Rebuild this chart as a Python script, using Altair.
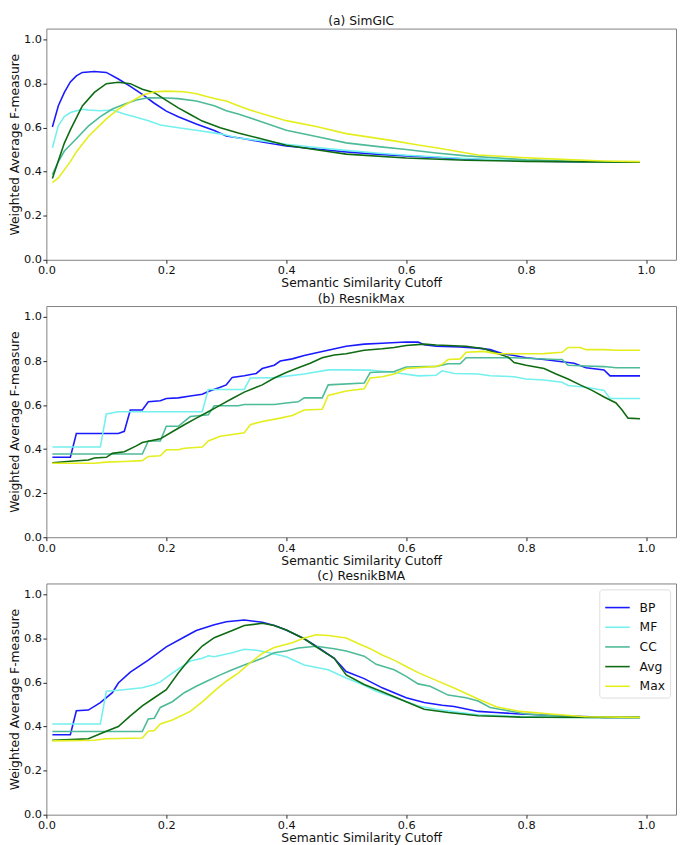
import altair as alt
import pandas as pd

series_names = ["BP", "MF", "CC", "Avg", "Max"]
series_colors = ["#1a1aff", "#74f0ee", "#4dba98", "#0e6b12", "#e4ee1c"]
panel_titles = ["(a) SimGIC", "(b) ResnikMax", "(c) ResnikBMA"]
tick_values = [0.0, 0.2, 0.4, 0.6, 0.8, 1.0]

# ---------- (a) SimGIC ----------
simgic_bp_x = [0.01,0.02,0.03,0.04,0.05,0.06,0.08,0.10,0.12,0.14,0.16,0.18,0.20,0.22,0.25,0.28,0.30,0.33,0.36,0.40,0.45,0.50,0.55,0.60,0.70,0.80,0.90,0.99]
simgic_bp_y = [0.603,0.70,0.76,0.808,0.835,0.851,0.855,0.851,0.821,0.788,0.751,0.711,0.675,0.65,0.617,0.587,0.562,0.55,0.535,0.517,0.503,0.49,0.48,0.472,0.458,0.449,0.444,0.443]
simgic_mf_x = [0.01,0.02,0.03,0.04,0.06,0.07,0.09,0.11,0.13,0.15,0.17,0.19,0.22,0.25,0.29,0.32,0.36,0.40,0.45,0.50,0.55,0.60,0.70,0.80,0.90,0.99]
simgic_mf_y = [0.509,0.61,0.65,0.669,0.684,0.68,0.677,0.68,0.662,0.647,0.632,0.612,0.60,0.588,0.572,0.553,0.54,0.525,0.51,0.497,0.485,0.475,0.46,0.45,0.445,0.443]
simgic_cc_x = [0.01,0.02,0.03,0.05,0.07,0.09,0.11,0.13,0.15,0.17,0.20,0.22,0.25,0.28,0.30,0.32,0.35,0.40,0.45,0.50,0.55,0.60,0.65,0.70,0.80,0.90,0.99]
simgic_cc_y = [0.387,0.446,0.494,0.55,0.607,0.65,0.685,0.706,0.726,0.736,0.735,0.732,0.721,0.70,0.677,0.662,0.635,0.588,0.56,0.531,0.515,0.501,0.485,0.472,0.454,0.446,0.443]
simgic_avg_x = [0.01,0.02,0.03,0.04,0.05,0.06,0.08,0.10,0.12,0.14,0.16,0.18,0.20,0.22,0.24,0.26,0.29,0.32,0.35,0.40,0.45,0.50,0.60,0.70,0.80,0.99]
simgic_avg_y = [0.369,0.45,0.53,0.59,0.645,0.699,0.76,0.80,0.806,0.80,0.775,0.759,0.724,0.69,0.66,0.63,0.60,0.576,0.555,0.52,0.50,0.48,0.462,0.452,0.447,0.443]
simgic_max_x = [0.01,0.02,0.04,0.05,0.07,0.10,0.12,0.14,0.16,0.18,0.20,0.23,0.25,0.28,0.30,0.32,0.34,0.37,0.40,0.45,0.50,0.58,0.62,0.65,0.72,0.79,0.86,0.93,0.99]
simgic_max_y = [0.35,0.372,0.446,0.49,0.56,0.64,0.684,0.717,0.747,0.763,0.766,0.763,0.754,0.733,0.721,0.70,0.68,0.655,0.632,0.605,0.573,0.54,0.521,0.509,0.476,0.465,0.456,0.449,0.446]

# ---------- (b) ResnikMax ----------
rmax_bp_x = [0.01,0.04,0.05,0.12,0.13,0.14,0.16,0.17,0.19,0.20,0.22,0.24,0.26,0.27,0.29,0.30,0.31,0.33,0.35,0.36,0.38,0.39,0.41,0.43,0.46,0.50,0.53,0.56,0.60,0.62,0.63,0.65,0.69,0.72,0.74,0.76,0.78,0.80,0.83,0.85,0.88,0.90,0.93,0.94,0.99]
rmax_bp_y = [0.363,0.363,0.471,0.471,0.481,0.578,0.578,0.615,0.62,0.63,0.633,0.641,0.649,0.662,0.681,0.692,0.726,0.733,0.744,0.766,0.781,0.80,0.81,0.825,0.844,0.867,0.877,0.881,0.887,0.886,0.874,0.867,0.864,0.859,0.852,0.834,0.825,0.815,0.807,0.80,0.79,0.77,0.76,0.733,0.733]
rmax_mf_x = [0.01,0.09,0.10,0.12,0.26,0.27,0.33,0.34,0.38,0.43,0.47,0.50,0.54,0.58,0.62,0.65,0.66,0.68,0.72,0.74,0.78,0.80,0.83,0.86,0.87,0.90,0.93,0.94,0.99]
rmax_mf_y = [0.41,0.41,0.56,0.57,0.57,0.671,0.671,0.723,0.725,0.741,0.76,0.76,0.759,0.748,0.733,0.736,0.756,0.744,0.741,0.733,0.729,0.719,0.714,0.704,0.689,0.681,0.667,0.63,0.63]
rmax_cc_x = [0.01,0.16,0.17,0.19,0.20,0.22,0.24,0.27,0.28,0.32,0.33,0.38,0.40,0.42,0.43,0.46,0.47,0.53,0.54,0.58,0.60,0.65,0.67,0.69,0.70,0.78,0.85,0.86,0.87,0.90,0.93,0.95,0.99]
rmax_cc_y = [0.378,0.378,0.437,0.437,0.504,0.504,0.548,0.556,0.597,0.597,0.603,0.603,0.61,0.615,0.633,0.633,0.692,0.70,0.748,0.753,0.773,0.776,0.788,0.788,0.815,0.815,0.807,0.807,0.781,0.778,0.775,0.77,0.77]
rmax_avg_x = [0.01,0.04,0.07,0.08,0.10,0.11,0.13,0.15,0.16,0.19,0.21,0.23,0.25,0.27,0.29,0.31,0.33,0.36,0.38,0.40,0.42,0.44,0.46,0.48,0.50,0.53,0.56,0.58,0.60,0.63,0.65,0.68,0.70,0.73,0.75,0.77,0.78,0.80,0.83,0.85,0.87,0.89,0.91,0.93,0.95,0.96,0.97,0.99]
rmax_avg_y = [0.338,0.345,0.351,0.36,0.363,0.381,0.388,0.415,0.43,0.447,0.479,0.511,0.541,0.57,0.60,0.63,0.659,0.692,0.723,0.748,0.77,0.79,0.815,0.828,0.833,0.849,0.856,0.862,0.871,0.877,0.873,0.87,0.867,0.856,0.837,0.818,0.793,0.781,0.766,0.741,0.719,0.692,0.667,0.637,0.61,0.578,0.541,0.538]
rmax_max_x = [0.01,0.08,0.10,0.13,0.16,0.17,0.19,0.20,0.22,0.23,0.26,0.27,0.29,0.33,0.34,0.36,0.39,0.41,0.43,0.46,0.47,0.50,0.53,0.54,0.56,0.58,0.60,0.65,0.66,0.67,0.69,0.70,0.73,0.75,0.79,0.83,0.86,0.87,0.89,0.90,0.93,0.95,0.99]
rmax_max_y = [0.336,0.336,0.341,0.344,0.348,0.367,0.37,0.397,0.397,0.404,0.41,0.437,0.459,0.474,0.511,0.526,0.541,0.553,0.578,0.581,0.644,0.664,0.674,0.723,0.729,0.741,0.766,0.776,0.785,0.807,0.81,0.84,0.844,0.834,0.833,0.834,0.84,0.862,0.862,0.852,0.852,0.849,0.849]

# ---------- (c) ResnikBMA ----------
rbma_bp_x = [0.01,0.04,0.05,0.07,0.09,0.11,0.12,0.14,0.17,0.20,0.23,0.25,0.28,0.30,0.33,0.36,0.38,0.40,0.43,0.45,0.48,0.50,0.53,0.56,0.60,0.63,0.66,0.68,0.72,0.75,0.79,0.86,0.93,0.99]
rbma_bp_y = [0.363,0.363,0.472,0.475,0.509,0.554,0.598,0.647,0.702,0.762,0.807,0.836,0.863,0.876,0.884,0.874,0.859,0.839,0.799,0.765,0.71,0.65,0.618,0.576,0.531,0.509,0.497,0.491,0.469,0.464,0.457,0.449,0.442,0.442]
rbma_mf_x = [0.01,0.09,0.10,0.12,0.16,0.18,0.19,0.21,0.24,0.26,0.27,0.28,0.31,0.33,0.35,0.37,0.40,0.43,0.47,0.50,0.53,0.55,0.59,0.62,0.65,0.68,0.72,0.79,0.86,0.99]
rbma_mf_y = [0.412,0.412,0.561,0.565,0.576,0.591,0.603,0.643,0.698,0.71,0.722,0.717,0.735,0.751,0.747,0.737,0.717,0.68,0.658,0.621,0.588,0.561,0.524,0.494,0.479,0.467,0.454,0.446,0.442,0.442]
rbma_cc_x = [0.01,0.16,0.17,0.18,0.19,0.21,0.23,0.25,0.27,0.29,0.31,0.33,0.36,0.38,0.40,0.42,0.45,0.48,0.50,0.53,0.55,0.58,0.60,0.62,0.64,0.67,0.70,0.72,0.74,0.77,0.80,0.85,0.90,0.99]
rbma_cc_y = [0.378,0.378,0.435,0.438,0.487,0.513,0.554,0.583,0.609,0.635,0.658,0.68,0.71,0.735,0.743,0.757,0.765,0.754,0.743,0.72,0.683,0.658,0.628,0.594,0.583,0.543,0.531,0.516,0.487,0.472,0.457,0.449,0.442,0.442]
rbma_avg_x = [0.01,0.04,0.07,0.10,0.12,0.14,0.16,0.18,0.20,0.22,0.24,0.26,0.28,0.31,0.33,0.36,0.38,0.40,0.43,0.45,0.48,0.50,0.53,0.56,0.60,0.63,0.67,0.72,0.79,0.99]
rbma_avg_y = [0.338,0.341,0.345,0.379,0.40,0.449,0.494,0.531,0.568,0.643,0.71,0.766,0.804,0.836,0.859,0.869,0.859,0.839,0.799,0.762,0.71,0.635,0.591,0.558,0.513,0.479,0.464,0.449,0.443,0.442]
rbma_max_x = [0.01,0.08,0.10,0.16,0.17,0.18,0.19,0.21,0.24,0.26,0.28,0.30,0.32,0.34,0.36,0.38,0.41,0.43,0.45,0.47,0.50,0.52,0.54,0.56,0.58,0.60,0.62,0.65,0.68,0.70,0.72,0.75,0.79,0.84,0.90,0.99]
rbma_max_y = [0.335,0.338,0.345,0.348,0.379,0.382,0.412,0.43,0.469,0.512,0.561,0.606,0.643,0.69,0.732,0.759,0.781,0.802,0.817,0.814,0.802,0.777,0.754,0.725,0.702,0.673,0.645,0.61,0.575,0.55,0.525,0.49,0.469,0.457,0.445,0.442]

panels = [
    [(simgic_bp_x, simgic_bp_y), (simgic_mf_x, simgic_mf_y), (simgic_cc_x, simgic_cc_y),
     (simgic_avg_x, simgic_avg_y), (simgic_max_x, simgic_max_y)],
    [(rmax_bp_x, rmax_bp_y), (rmax_mf_x, rmax_mf_y), (rmax_cc_x, rmax_cc_y),
     (rmax_avg_x, rmax_avg_y), (rmax_max_x, rmax_max_y)],
    [(rbma_bp_x, rbma_bp_y), (rbma_mf_x, rbma_mf_y), (rbma_cc_x, rbma_cc_y),
     (rbma_avg_x, rbma_avg_y), (rbma_max_x, rbma_max_y)],
]

FONT = "DejaVu Sans"
W, H = 640, 235


def make_panel(idx):
    rows = []
    for name, (xs, ys) in zip(series_names, panels[idx]):
        for x, y in zip(xs, ys):
            rows.append({"cutoff": x, "fmeasure": y, "series": name})
    df = pd.DataFrame(rows)
    if idx == 2:
        legend = alt.Legend(
            title=None, orient="top-right", offset=6, symbolType="stroke",
            symbolSize=620, symbolStrokeWidth=1.6, labelFontSize=12.5,
            labelFont=FONT, labelOffset=9, padding=5, strokeColor="#dddddd",
            fillColor="white", cornerRadius=3, rowPadding=-10,
        )
    else:
        legend = None
    return alt.Chart(df, title=alt.Title(panel_titles[idx])).mark_line(
        strokeWidth=1.6, interpolate="linear"
    ).encode(
        x=alt.X("cutoff:Q", title="Semantic Similarity Cutoff",
                scale=alt.Scale(domain=[0, 1.05], nice=False, zero=False),
                axis=alt.Axis(values=tick_values, format=".1f", labelFlush=False)),
        y=alt.Y("fmeasure:Q", title="Weighted Average F-measure",
                scale=alt.Scale(domain=[0, 1.05], nice=False),
                axis=alt.Axis(values=tick_values, format=".1f")),
        color=alt.Color("series:N", sort=series_names,
                        scale=alt.Scale(domain=series_names, range=series_colors),
                        legend=legend),
        detail="series:N",
    ).properties(width=W, height=H)


chart = alt.vconcat(make_panel(0), make_panel(1), make_panel(2), spacing=2).resolve_scale(
    color="independent"
).properties(padding=0).configure_view(
    stroke="#808080", strokeWidth=1
).configure_axis(
    grid=False, domain=False, tickColor="#222222", tickSize=3.5, tickWidth=1,
    labelFont=FONT, labelFontSize=11.5, labelColor="#111111", labelPadding=1.5,
    titleFont=FONT, titleFontSize=12.5, titleFontWeight="normal", titleColor="#111111",
).configure_axisY(titlePadding=2).configure_axisX(titlePadding=1).configure_title(
    font=FONT, fontSize=12.5, fontWeight="normal", color="#111111", offset=1, anchor="middle"
).configure_legend(labelColor="#111111")

chart.save("out.html", embed_options={"renderer": "svg", "actions": False})
